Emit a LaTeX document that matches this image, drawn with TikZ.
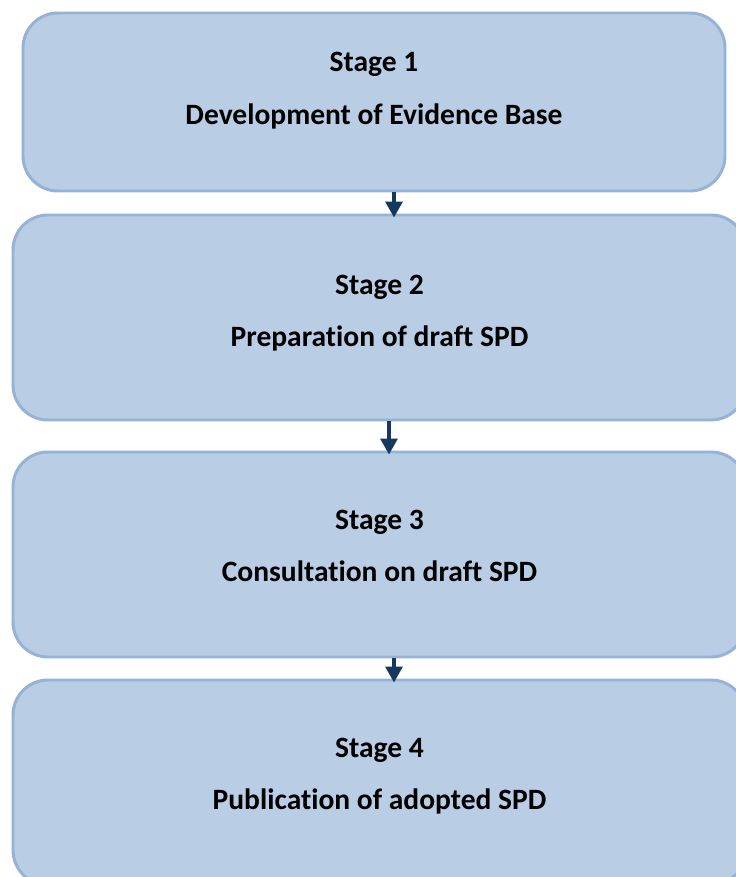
\documentclass[tikz,border=0pt]{standalone}
\usepackage{fontspec}
\setmainfont{Carlito}[Ligatures=NoCommon]
\usetikzlibrary{arrows.meta}

\definecolor{stagefill}{HTML}{B9CDE5}
\definecolor{stageline}{HTML}{95B3D7}
\definecolor{flownavy}{HTML}{17375E}

\tikzset{
  stagebox/.style={draw=stageline, fill=stagefill, line width=1.7pt,
    rounded corners=0.7cm, inner sep=0pt},
  stagetext/.style={anchor=base, font=\fontsize{16.8}{20}\selectfont\bfseries},
  flow/.style={-{Triangle[width=0.34cm,length=0.32cm]}, draw=flownavy,
    line width=1.9pt, shorten >=-0.08cm}
}

\begin{document}
\begin{tikzpicture}
    \useasboundingbox (0,0) rectangle (14.72,17.54);

    % Stage boxes
    \node[stagebox, minimum width=14.04cm, minimum height=3.56cm] (box1) at (7.48,15.50) {};
    \node[stagebox, minimum width=14.66cm, minimum height=4.10cm] (box2) at (7.59,11.19) {};
    \node[stagebox, minimum width=14.66cm, minimum height=4.10cm] (box3) at (7.59,6.45) {};
    \node[stagebox, minimum width=14.66cm, minimum height=4.10cm] (box4) at (7.59,1.89) {};

    % Stage texts
    \node[stagetext] (title1) at (7.48,16.10) {Stage 1};
    \node[stagetext] (name1)  at (7.48,15.05) {Development of Evidence Base};
    \node[stagetext] (title2) at (7.59,11.65) {Stage 2};
    \node[stagetext] (name2)  at (7.59,10.60) {Preparation of draft SPD};
    \node[stagetext] (title3) at (7.59,6.95) {Stage 3};
    \node[stagetext] (name3)  at (7.59,5.90) {Consultation on draft SPD};
    \node[stagetext] (title4) at (7.59,2.39) {Stage 4};
    \node[stagetext] (name4)  at (7.59,1.34) {Publication of adopted SPD};

    % Arrows between stages
    \coordinate (a1) at (7.88,0);
    \coordinate (a2) at (7.78,0);
    \coordinate (a3) at (7.88,0);
    \draw[flow] (box1.south -| a1) -- (box2.north -| a1);
    \draw[flow] (box2.south -| a2) -- (box3.north -| a2);
    \draw[flow] (box3.south -| a3) -- (box4.north -| a3);
\end{tikzpicture}
\end{document}
